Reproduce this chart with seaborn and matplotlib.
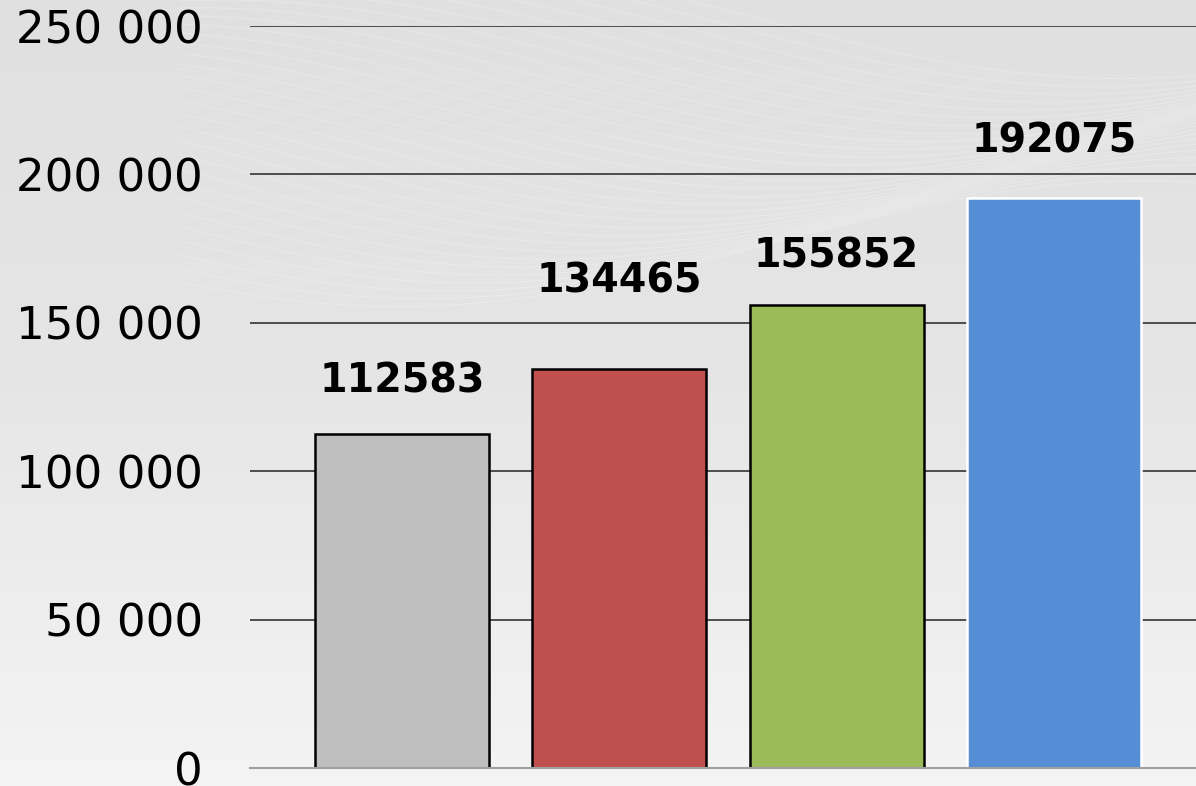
import numpy as np
import pandas as pd
import matplotlib
matplotlib.use("Agg")
import matplotlib.pyplot as plt
from matplotlib.ticker import FuncFormatter, MultipleLocator
import seaborn as sns

# data
categories = ["Série 1", "Série 2", "Série 3", "Série 4"]
values = [112583, 134465, 155852, 192075]
bar_colors = ["#bfbfbf", "#c0504d", "#9bbb59", "#558ed5"]
edge_colors = ["black", "black", "black", "white"]
# labels were placed by hand in the original, distance above bar in points
label_offsets = [30, 55, 27, 33]

df = pd.DataFrame({"categorie": categories, "valeur": values})

sns.set_theme(style="white")
plt.rcParams["font.family"] = ["DejaVu Sans"]

fig = plt.figure(figsize=(11.96, 7.86), dpi=100)

# background: light grey gradient with faint white waves top right
bg = fig.add_axes([0, 0, 1, 1], zorder=0)
grad = np.linspace(0, 1, 256).reshape(-1, 1)
cmap = matplotlib.colors.LinearSegmentedColormap.from_list("bg", ["#e0e0e0", "#e6e6e6", "#f4f4f4"])
bg.imshow(grad, aspect="auto", cmap=cmap, extent=[0, 1, 0, 1], origin="upper")
t = np.linspace(0.15, 1, 400)
for k in range(30):
    off = k / 30
    y = 0.98 - 0.30 * off + 0.08 * np.sin(2 * np.pi * (t * 0.8 + off * 0.5))
    bg.plot(t, y, color="white", alpha=0.25, lw=0.7)
bg.set_xlim(0, 1)
bg.set_ylim(0, 1)
bg.axis("off")

ax = fig.add_axes([250 / 1196, 18 / 786, 1 - 250 / 1196, (768 - 26) / 786], zorder=1)
ax.patch.set_alpha(0)

sns.barplot(data=df, x="categorie", y="valeur", hue="categorie", palette=bar_colors,
            legend=False, width=0.8, saturation=1, ax=ax, zorder=3)

for patch, ec in zip(ax.patches, edge_colors):
    patch.set_edgecolor(ec)
    patch.set_linewidth(1.8)

for i, v in enumerate(values):
    ax.annotate(str(v), xy=(i, v), xytext=(0, label_offsets[i]), textcoords="offset points",
                ha="center", va="baseline", fontsize=28.5, fontweight="bold", color="black")

ax.set_ylim(0, 250000)
ax.set_xlim(-0.699, 3.653)
ax.yaxis.set_major_locator(MultipleLocator(50000))
ax.yaxis.set_major_formatter(FuncFormatter(lambda v, p: f"{int(v):,}".replace(",", " ")))
ax.grid(axis="y", color="#333333", linewidth=1.2, zorder=0)
ax.set_axisbelow(True)
ax.tick_params(axis="y", length=0, pad=34, labelsize=32.5, labelcolor="black")
ax.set_xticks([])
ax.set_xlabel("")
ax.set_ylabel("")
for side in ["top", "right", "left"]:
    ax.spines[side].set_visible(False)
ax.spines["bottom"].set_color("#a0a0a0")
ax.spines["bottom"].set_linewidth(1.5)
ax.spines["bottom"].set_zorder(4)

fig.savefig("out.png", dpi=100)
